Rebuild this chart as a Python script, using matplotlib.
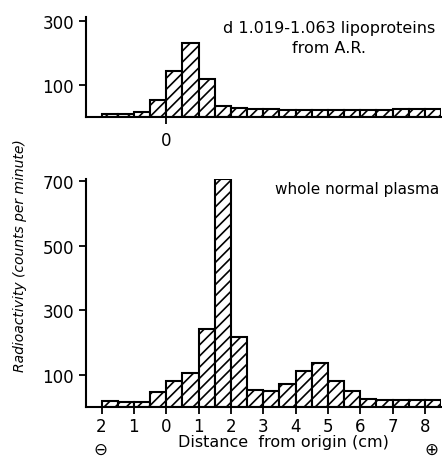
import numpy as np
import matplotlib.pyplot as plt

plt.rcParams["hatch.linewidth"] = 1.2
plt.rcParams["font.family"] = "DejaVu Sans"

# left edges of the 0.5 cm slices (cm from origin)
bin_left = [-2.0, -1.5, -1.0, -0.5, 0.0, 0.5, 1.0, 1.5, 2.0, 2.5, 3.0,
            3.5, 4.0, 4.5, 5.0, 5.5, 6.0, 6.5, 7.0, 7.5, 8.0]
bin_width = 0.5

# d 1.019-1.063 lipoproteins from A.R.
ldl_counts = [10, 10, 17, 53, 144, 229, 118, 33, 29, 25, 24,
              23, 23, 23, 23, 23, 23, 23, 24, 25, 24]

# whole normal plasma
plasma_counts = [18, 15, 15, 47, 81, 105, 241, 705, 216, 54, 49,
                 71, 112, 135, 81, 49, 25, 23, 23, 23, 23]

top_yticks = [100, 300]
bottom_yticks = [100, 300, 500, 700]
x_ticks = [-2, -1, 0, 1, 2, 3, 4, 5, 6, 7, 8]
x_ticklabels = ["2", "1", "0", "1", "2", "3", "4", "5", "6", "7", "8"]

W, H = 442, 460
fig = plt.figure(figsize=(W / 100, H / 100), dpi=100)


def px_axes(left, top, right, bottom):
    return fig.add_axes([left / W, 1 - bottom / H, (right - left) / W, (bottom - top) / H])


ax_top = px_axes(86, 18, 441, 118)
ax_bot = px_axes(86, 180, 441, 408)

for ax, counts in [(ax_top, ldl_counts), (ax_bot, plasma_counts)]:
    ax.bar(bin_left, counts, width=bin_width, align="edge",
           color="white", edgecolor="black", linewidth=1.5, hatch="///")
    ax.set_xlim(-2.48, 8.5)
    for s in ["top", "right"]:
        ax.spines[s].set_visible(False)
    ax.spines["left"].set_linewidth(1.5)
    ax.spines["bottom"].set_linewidth(1.5)
    ax.tick_params(width=1.3, length=5, labelsize=12)

# top panel
ax_top.set_ylim(0, 311)
ax_top.set_yticks(top_yticks)
ax_top.set_xticks([0])
ax_top.set_xticklabels(["0"])
ax_top.tick_params(axis="x", pad=5)
ax_top.text(0.685, 0.97, "d 1.019-1.063 lipoproteins\nfrom A.R.",
            transform=ax_top.transAxes, ha="center", va="top",
            fontsize=11.5, linespacing=1.45)

# bottom panel
ax_bot.set_ylim(0, 706)
ax_bot.set_yticks(bottom_yticks)
ax_bot.set_xticks(x_ticks)
ax_bot.set_xticklabels(x_ticklabels)
ax_bot.tick_params(axis="x", pad=2)
ax_bot.text(0.763, 0.99, "whole normal plasma", transform=ax_bot.transAxes,
            ha="center", va="top", fontsize=11)

fig.text(283 / W, 1 - 443 / H, "Distance  from origin (cm)",
         ha="center", va="center", fontsize=11.5)
fig.text(100 / W, 1 - 450 / H, "\u2296", ha="center", va="center", fontsize=12)
fig.text(431 / W, 1 - 450 / H, "\u2295", ha="center", va="center", fontsize=12)

fig.text(20 / W, 1 - 256 / H, "Radioactivity (counts per minute)",
         rotation=90, ha="center", va="center", fontsize=10, style="italic")

fig.savefig("out.png", dpi=100)
